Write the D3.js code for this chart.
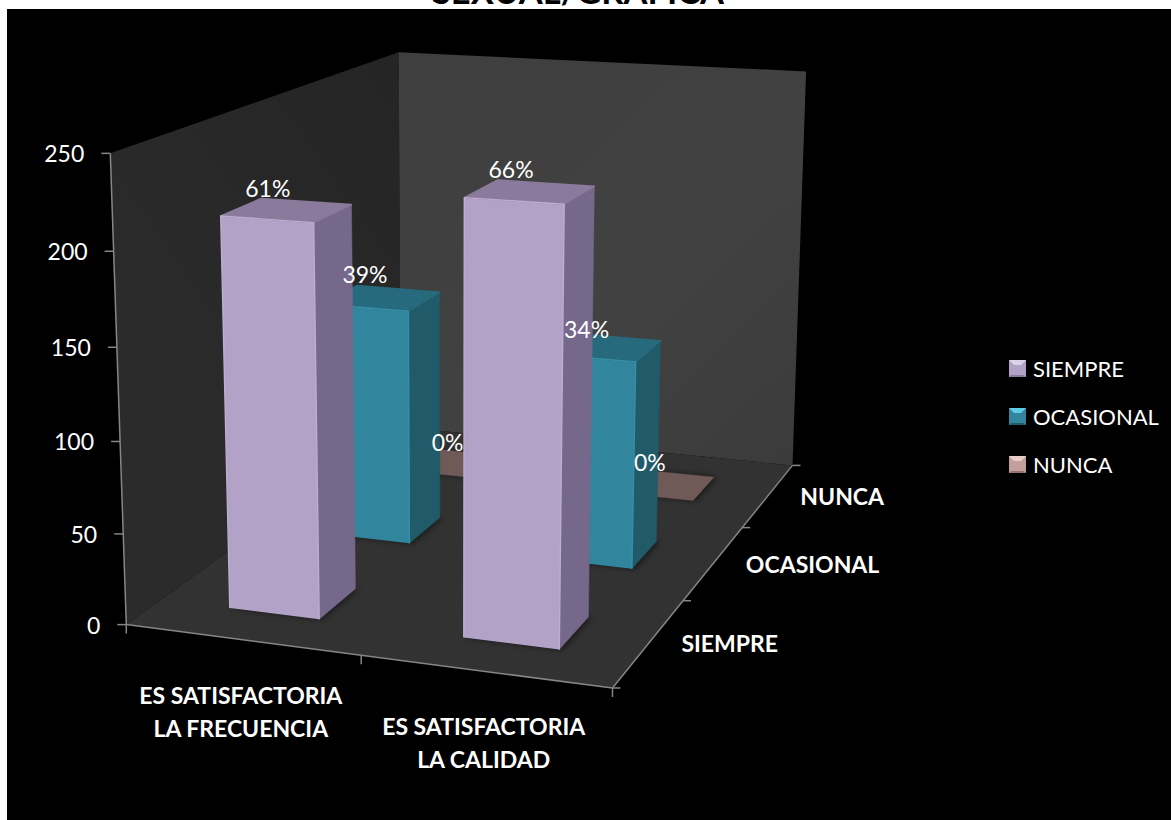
<!DOCTYPE html>
<html>
<head>
<meta charset="utf-8">
<title>Satisfacción sexual</title>
<script src="https://cdn.jsdelivr.net/npm/d3@7/dist/d3.min.js"></script>
<style>
  html, body { margin: 0; padding: 0; background: #fff; overflow: hidden; }
  svg { display: block; }
  text { font-family: Lato, "Open Sans", sans-serif; fill: #fff; }
</style>
</head>
<body>
<svg id="chart" width="1171" height="820"></svg>
<script>
// Survey responses per question and answer
const categoryLines = [["ES SATISFACTORIA", "LA FRECUENCIA"], ["ES SATISFACTORIA", "LA CALIDAD"]];
const seriesNames = ["SIEMPRE", "OCASIONAL", "NUNCA"];
const siempre = [213, 231];
const ocasional = [137, 119];
const nunca = [0, 0];
const respondents = 350;
const yTicks = [0, 50, 100, 150, 200, 250];

// Face colours per series
const frontColors = ["#b3a2c7", "#31859c", "#8f7472"];
const sideColors = ["#76688a", "#215a69", "#6f5a58"];
const topColors = ["#8a7a9c", "#276a7d", "#6f5a58"];
const rimColors = ["#bdadd1", "#378fa7", "#6f5a58"];
const legendColors = ["#b3a2c7", "#31859c", "#c3a09e"];
const legendLight = ["#dcd2e8", "#5fcbe6", "#e8cdcb"];
const legendDark = ["#8a7a9c", "#215a69", "#97716f"];

// Data label nudges per series and question, relative to the centre of the bar top
const labelDx = [-19, -17, -13];
const labelDy = [[-13, -14], [-15, -9], [-13, -13]];

const svg = d3.select("#chart");

// Camera: corners of the plot box in unit coordinates (x, value, depth) and on screen
const boxCorners = [
  [[0, 0, 0], [127, 624]], [[1, 0, 0], [612, 689]],
  [[0, 0, 1], [400, 428]], [[1, 0, 1], [793, 464]],
  [[0, 1, 0], [110, 153]], [[0, 1, 1], [399, 52]], [[1, 1, 1], [806, 72]]
];

// Least-squares fit of the 11 coefficients of a projective camera
function fitCamera(pairs) {
  const rows = [], rhs = [];
  for (const [[x, y, z], [su, sv]] of pairs) {
    const u = su / 1000, v = sv / 1000;
    rows.push([x, y, z, 1, 0, 0, 0, 0, -u * x, -u * y, -u * z]); rhs.push(u);
    rows.push([0, 0, 0, 0, x, y, z, 1, -v * x, -v * y, -v * z]); rhs.push(v);
  }
  const n = 11;
  const A = d3.range(n).map(i => {
    const row = d3.range(n).map(j => d3.sum(rows, r => r[i] * r[j]));
    row.push(d3.sum(rows, (r, k) => r[i] * rhs[k]));
    return row;
  });
  for (let c = 0; c < n; c++) {
    let best = c;
    for (let r = c + 1; r < n; r++) if (Math.abs(A[r][c]) > Math.abs(A[best][c])) best = r;
    [A[c], A[best]] = [A[best], A[c]];
    for (let r = 0; r < n; r++) {
      if (r === c) continue;
      const f = A[r][c] / A[c][c];
      for (let k = c; k <= n; k++) A[r][k] -= f * A[c][k];
    }
  }
  return A.map((row, i) => row[n] / row[i]);
}
const cam = fitCamera(boxCorners);
function project(x, y, z) {
  const w = cam[8] * x + cam[9] * y + cam[10] * z + 1;
  return [1000 * (cam[0] * x + cam[1] * y + cam[2] * z + cam[3]) / w,
          1000 * (cam[4] * x + cam[5] * y + cam[6] * z + cam[7]) / w];
}

// Scales into the unit box
const xScale = d3.scaleBand().domain(d3.range(categoryLines.length)).range([0, 1]).paddingInner(0.61).paddingOuter(0.305);
const zScale = d3.scaleBand().domain(d3.range(seriesNames.length)).range([0, 1]).paddingInner(0.62).paddingOuter(0.31);
const yScale = d3.scaleLinear().domain([0, 250]).range([0, 1]);
const pct = d3.format(".0%");
const poly = pts => pts.map(p => p.map(c => c.toFixed(1)).join(",")).join(" ");

const defs = svg.append("defs");
defs.append("filter").attr("id", "contact").attr("x", "-30%").attr("y", "-30%").attr("width", "160%").attr("height", "160%")
  .append("feGaussianBlur").attr("stdDeviation", 3);
const wallGrad = defs.append("linearGradient").attr("id", "backWall")
  .attr("gradientUnits", "userSpaceOnUse").attr("x1", 400).attr("y1", 50).attr("x2", 800).attr("y2", 470);
wallGrad.append("stop").attr("offset", 0).attr("stop-color", "#3f3f3f");
wallGrad.append("stop").attr("offset", 0.6).attr("stop-color", "#414141");
wallGrad.append("stop").attr("offset", 1).attr("stop-color", "#3b3b3b");
const sideGrad = defs.append("linearGradient").attr("id", "sideWall")
  .attr("gradientUnits", "userSpaceOnUse").attr("x1", 400).attr("y1", 100).attr("x2", 110).attr("y2", 300);
sideGrad.append("stop").attr("offset", 0).attr("stop-color", "#252525");
sideGrad.append("stop").attr("offset", 1).attr("stop-color", "#2b2b2b");

// Page title, running off the top edge, and the black chart area below it
svg.append("text").attr("x", 578).attr("y", 4).attr("text-anchor", "middle")
  .style("fill", "#000").style("font-family", "Lato").style("font-weight", 700).style("font-size", "34.5px")
  .text("SEXUAL/GRAFICA");
svg.append("rect").attr("x", 7).attr("y", 9).attr("width", 1164).attr("height", 811).attr("fill", "#000");

// Walls and floor
const walls = [
  { pts: [[0, 0, 0], [0, 1, 0], [0, 1, 1], [0, 0, 1]], fill: "url(#sideWall)" },
  { pts: [[0, 0, 1], [0, 1, 1], [1, 1, 1], [1, 0, 1]], fill: "url(#backWall)" },
  { pts: [[0, 0, 0], [1, 0, 0], [1, 0, 1], [0, 0, 1]], fill: "#323232" }
];
svg.append("g").selectAll("polygon").data(walls).join("polygon")
  .attr("points", d => poly(d.pts.map(p => project(...p))))
  .attr("fill", d => d.fill);

// One record per bar, painted from the back row forward
const seriesValues = [siempre, ocasional, nunca];
const bars = [2, 1, 0].flatMap(s => categoryLines.map((_, c) => {
  const x0 = xScale(c), x1 = x0 + xScale.bandwidth();
  const z0 = zScale(s), z1 = z0 + zScale.bandwidth();
  const v = seriesValues[s][c], h = yScale(v);
  return {
    s, c, v,
    base: [[x0, 0, z0], [x1, 0, z0], [x1, 0, z1], [x0, 0, z1]].map(p => project(...p)),
    front: [[x0, 0, z0], [x1, 0, z0], [x1, h, z0], [x0, h, z0]].map(p => project(...p)),
    side: [[x1, 0, z0], [x1, 0, z1], [x1, h, z1], [x1, h, z0]].map(p => project(...p)),
    top: [[x0, h, z0], [x1, h, z0], [x1, h, z1], [x0, h, z1]].map(p => project(...p)),
    rim: [[x0, 0, z0], [x0, h, z0], [x1, h, z0], [x1, 0, z0]].map(p => project(...p)),
    anchor: project((x0 + x1) / 2, h, (z0 + z1) / 2)
  };
}));

const barG = svg.append("g").selectAll("g").data(bars).join("g");
barG.append("polygon").attr("points", d => poly(d.base.map(p => [p[0] + 3, p[1]])))
  .attr("fill", "#000").attr("opacity", 0.55).attr("filter", "url(#contact)");
barG.filter(d => d.v > 0).append("polygon").attr("points", d => poly(d.side))
  .attr("fill", d => sideColors[d.s]).attr("stroke", d => sideColors[d.s]).attr("stroke-width", 0.5);
barG.filter(d => d.v > 0).append("polygon").attr("points", d => poly(d.front))
  .attr("fill", d => frontColors[d.s]);
barG.append("polygon").attr("points", d => poly(d.top))
  .attr("fill", d => topColors[d.s]).attr("stroke", d => topColors[d.s])
  .attr("stroke-width", d => d.v > 0 ? 1.5 : 0.5).attr("stroke-linejoin", "round");
barG.filter(d => d.v > 0).append("polyline").attr("points", d => poly(d.rim))
  .attr("fill", "none").attr("stroke", d => rimColors[d.s]).attr("stroke-width", 1.4).attr("stroke-linejoin", "round");

// Axis lines and tick marks
const axisColor = "#868686";
const axes = svg.append("g").attr("stroke", axisColor).attr("stroke-width", 1.5).attr("fill", "none");
[[[0, 0, 0], [0, 1, 0]], [[0, 0, 0], [1, 0, 0]], [[1, 0, 0], [1, 0, 1]]].forEach(([a, b]) => {
  axes.append("polyline").attr("points", poly([project(...a), project(...b)]));
});
yTicks.forEach(t => {
  const [px, py] = project(0, yScale(t), 0);
  axes.append("line").attr("x1", px - 9).attr("x2", px).attr("y1", py).attr("y2", py);
});
[0, 0.5, 1].forEach(x => {
  const [px, py] = project(x, 0, 0);
  axes.append("line").attr("x1", px).attr("x2", px).attr("y1", py).attr("y2", py + 9);
});
[0, 1 / 3, 2 / 3, 1].forEach(z => {
  const [px, py] = project(1, 0, z);
  axes.append("line").attr("x1", px).attr("x2", px + 8).attr("y1", py).attr("y2", py);
});

// Value axis labels
svg.append("g").selectAll("text").data(yTicks).join("text")
  .attr("x", t => project(0, yScale(t), 0)[0] - 26)
  .attr("y", t => project(0, yScale(t), 0)[1] + 9)
  .attr("text-anchor", "end").style("font-size", "23px")
  .text(t => t);

// Category labels under the front edge
const catG = svg.append("g").selectAll("text").data(categoryLines).join("text")
  .attr("text-anchor", "middle").style("font-size", "23px").style("font-weight", 700);
catG.selectAll("tspan").data((d, c) => d.map((line, i) => ({ line, i, c }))).join("tspan")
  .attr("x", d => project(xScale(d.c) + xScale.bandwidth() / 2, 0, 0)[0] - 1)
  .attr("y", d => project(xScale(d.c) + xScale.bandwidth() / 2, 0, 0)[1] + 64 + d.i * 33)
  .text(d => d.line);

// Depth axis labels to the right of the floor
svg.append("g").selectAll("text").data(seriesNames).join("text")
  .attr("x", (d, s) => project(1, 0, zScale(s) + zScale.bandwidth() / 2)[0] + 32)
  .attr("y", (d, s) => project(1, 0, zScale(s) + zScale.bandwidth() / 2)[1] + 10)
  .style("font-size", "23px").style("font-weight", 700)
  .text(d => d);

// Data labels, computed from each bar's count
svg.append("g").selectAll("text").data(bars).join("text")
  .attr("x", d => d.anchor[0] + labelDx[d.s])
  .attr("y", d => d.anchor[1] + labelDy[d.s][d.c])
  .attr("text-anchor", "middle").style("font-size", "23px")
  .text(d => pct(d.v / respondents));

// Legend
const legendRows = svg.append("g").selectAll("g").data(seriesNames).join("g")
  .attr("transform", (d, i) => `translate(1009,${360 + i * 48})`);
const swatch = 17, bevel = 5;
legendRows.append("rect").attr("width", swatch).attr("height", swatch).attr("fill", (d, i) => legendColors[i]);
legendRows.append("polygon").attr("points", `0,0 ${swatch},0 ${swatch - bevel},${bevel} ${bevel},${bevel}`)
  .attr("fill", (d, i) => legendLight[i]);
legendRows.append("polygon").attr("points", `0,${swatch} ${swatch},${swatch} ${swatch - 2},${swatch - 2} 2,${swatch - 2}`)
  .attr("fill", (d, i) => legendDark[i]);
legendRows.append("text").attr("x", 24).attr("y", 17).style("font-size", "22px").text(d => d);
</script>
</body>
</html>
